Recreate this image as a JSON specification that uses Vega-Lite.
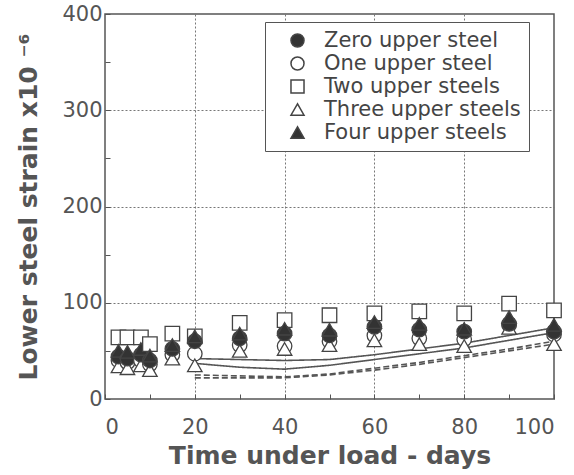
{
  "$schema": "https://vega.github.io/schema/vega-lite/v6.json",
  "autosize": {"type": "none"},
  "padding": {"left": 105, "top": 14, "right": 20, "bottom": 76},
  "width": 449,
  "height": 385,
  "background": "white",
  "config": {
    "view": {"stroke": "#555", "strokeWidth": 1.5},
    "font": "DejaVu Sans",
    "axis": {"labelFont": "DejaVu Sans", "titleFont": "DejaVu Sans", "labelColor": "#555", "titleColor": "#555", "domain": false, "gridColor": "#777", "gridDash": [2, 2], "gridWidth": 1, "tickColor": "#555", "tickSize": -5}
  },
  "datasets": {
    "pts": [
      {"day": 3, "strain": 64, "series": "Two upper steels"},
      {"day": 5, "strain": 64, "series": "Two upper steels"},
      {"day": 8, "strain": 64, "series": "Two upper steels"},
      {"day": 10, "strain": 57, "series": "Two upper steels"},
      {"day": 15, "strain": 68, "series": "Two upper steels"},
      {"day": 20, "strain": 65, "series": "Two upper steels"},
      {"day": 30, "strain": 79, "series": "Two upper steels"},
      {"day": 40, "strain": 82, "series": "Two upper steels"},
      {"day": 50, "strain": 87, "series": "Two upper steels"},
      {"day": 60, "strain": 89, "series": "Two upper steels"},
      {"day": 70, "strain": 91, "series": "Two upper steels"},
      {"day": 80, "strain": 89, "series": "Two upper steels"},
      {"day": 90, "strain": 99, "series": "Two upper steels"},
      {"day": 100, "strain": 92, "series": "Two upper steels"},
      {"day": 3, "strain": 40, "series": "One upper steel"},
      {"day": 5, "strain": 38, "series": "One upper steel"},
      {"day": 8, "strain": 40, "series": "One upper steel"},
      {"day": 10, "strain": 36, "series": "One upper steel"},
      {"day": 15, "strain": 46, "series": "One upper steel"},
      {"day": 20, "strain": 47, "series": "One upper steel"},
      {"day": 30, "strain": 56, "series": "One upper steel"},
      {"day": 40, "strain": 55, "series": "One upper steel"},
      {"day": 50, "strain": 60, "series": "One upper steel"},
      {"day": 60, "strain": 66, "series": "One upper steel"},
      {"day": 70, "strain": 63, "series": "One upper steel"},
      {"day": 80, "strain": 62, "series": "One upper steel"},
      {"day": 90, "strain": 77, "series": "One upper steel"},
      {"day": 100, "strain": 67, "series": "One upper steel"},
      {"day": 3, "strain": 34, "series": "Three upper steels"},
      {"day": 5, "strain": 32, "series": "Three upper steels"},
      {"day": 8, "strain": 35, "series": "Three upper steels"},
      {"day": 10, "strain": 30, "series": "Three upper steels"},
      {"day": 15, "strain": 42, "series": "Three upper steels"},
      {"day": 20, "strain": 35, "series": "Three upper steels"},
      {"day": 30, "strain": 50, "series": "Three upper steels"},
      {"day": 40, "strain": 52, "series": "Three upper steels"},
      {"day": 50, "strain": 56, "series": "Three upper steels"},
      {"day": 60, "strain": 61, "series": "Three upper steels"},
      {"day": 70, "strain": 57, "series": "Three upper steels"},
      {"day": 80, "strain": 55, "series": "Three upper steels"},
      {"day": 90, "strain": 74, "series": "Three upper steels"},
      {"day": 100, "strain": 57, "series": "Three upper steels"},
      {"day": 3, "strain": 44, "series": "Zero upper steel"},
      {"day": 5, "strain": 42, "series": "Zero upper steel"},
      {"day": 8, "strain": 46, "series": "Zero upper steel"},
      {"day": 10, "strain": 40, "series": "Zero upper steel"},
      {"day": 15, "strain": 52, "series": "Zero upper steel"},
      {"day": 20, "strain": 60, "series": "Zero upper steel"},
      {"day": 30, "strain": 63, "series": "Zero upper steel"},
      {"day": 40, "strain": 68, "series": "Zero upper steel"},
      {"day": 50, "strain": 66, "series": "Zero upper steel"},
      {"day": 60, "strain": 75, "series": "Zero upper steel"},
      {"day": 70, "strain": 72, "series": "Zero upper steel"},
      {"day": 80, "strain": 70, "series": "Zero upper steel"},
      {"day": 90, "strain": 78, "series": "Zero upper steel"},
      {"day": 100, "strain": 70, "series": "Zero upper steel"},
      {"day": 3, "strain": 50, "series": "Four upper steels"},
      {"day": 5, "strain": 49, "series": "Four upper steels"},
      {"day": 8, "strain": 52, "series": "Four upper steels"},
      {"day": 10, "strain": 45, "series": "Four upper steels"},
      {"day": 15, "strain": 56, "series": "Four upper steels"},
      {"day": 20, "strain": 65, "series": "Four upper steels"},
      {"day": 30, "strain": 68, "series": "Four upper steels"},
      {"day": 40, "strain": 73, "series": "Four upper steels"},
      {"day": 50, "strain": 72, "series": "Four upper steels"},
      {"day": 60, "strain": 80, "series": "Four upper steels"},
      {"day": 70, "strain": 78, "series": "Four upper steels"},
      {"day": 80, "strain": 73, "series": "Four upper steels"},
      {"day": 90, "strain": 85, "series": "Four upper steels"},
      {"day": 100, "strain": 77, "series": "Four upper steels"}
    ],
    "curves": [
      {"day": 20, "strain": 42, "curve": "a", "dash": "solid"},
      {"day": 30, "strain": 41, "curve": "a", "dash": "solid"},
      {"day": 40, "strain": 40, "curve": "a", "dash": "solid"},
      {"day": 50, "strain": 41, "curve": "a", "dash": "solid"},
      {"day": 60, "strain": 46, "curve": "a", "dash": "solid"},
      {"day": 70, "strain": 52, "curve": "a", "dash": "solid"},
      {"day": 80, "strain": 58, "curve": "a", "dash": "solid"},
      {"day": 90, "strain": 66, "curve": "a", "dash": "solid"},
      {"day": 100, "strain": 74, "curve": "a", "dash": "solid"},
      {"day": 20, "strain": 37, "curve": "b", "dash": "solid"},
      {"day": 30, "strain": 33, "curve": "b", "dash": "solid"},
      {"day": 40, "strain": 31, "curve": "b", "dash": "solid"},
      {"day": 50, "strain": 35, "curve": "b", "dash": "solid"},
      {"day": 60, "strain": 41, "curve": "b", "dash": "solid"},
      {"day": 70, "strain": 47, "curve": "b", "dash": "solid"},
      {"day": 80, "strain": 53, "curve": "b", "dash": "solid"},
      {"day": 90, "strain": 61, "curve": "b", "dash": "solid"},
      {"day": 100, "strain": 69, "curve": "b", "dash": "solid"},
      {"day": 20, "strain": 25, "curve": "c", "dash": "dashed"},
      {"day": 30, "strain": 24, "curve": "c", "dash": "dashed"},
      {"day": 40, "strain": 23, "curve": "c", "dash": "dashed"},
      {"day": 50, "strain": 26, "curve": "c", "dash": "dashed"},
      {"day": 60, "strain": 32, "curve": "c", "dash": "dashed"},
      {"day": 70, "strain": 38, "curve": "c", "dash": "dashed"},
      {"day": 80, "strain": 45, "curve": "c", "dash": "dashed"},
      {"day": 90, "strain": 52, "curve": "c", "dash": "dashed"},
      {"day": 100, "strain": 60, "curve": "c", "dash": "dashed"},
      {"day": 20, "strain": 22, "curve": "d", "dash": "dashed"},
      {"day": 30, "strain": 22, "curve": "d", "dash": "dashed"},
      {"day": 40, "strain": 22, "curve": "d", "dash": "dashed"},
      {"day": 50, "strain": 25, "curve": "d", "dash": "dashed"},
      {"day": 60, "strain": 30, "curve": "d", "dash": "dashed"},
      {"day": 70, "strain": 36, "curve": "d", "dash": "dashed"},
      {"day": 80, "strain": 43, "curve": "d", "dash": "dashed"},
      {"day": 90, "strain": 50, "curve": "d", "dash": "dashed"},
      {"day": 100, "strain": 57, "curve": "d", "dash": "dashed"}
    ]
  },
  "encoding": {
    "x": {
      "field": "day", "type": "quantitative",
      "scale": {"domain": [0, 100], "nice": false},
      "axis": {
        "title": "Time under load - days",
        "titleFontSize": 25, "titleFontWeight": "bold", "titlePadding": 6,
        "values": [0, 10, 20, 30, 40, 50, 60, 70, 80, 90, 100],
        "labelExpr": "datum.value % 20 === 0 ? datum.label : ''",
        "labelFontSize": 21, "labelPadding": 22,
        "gridOpacity": {"condition": {"test": "datum.value % 20 === 0 && datum.value > 0 && datum.value < 100", "value": 1}, "value": 0}
      }
    },
    "y": {
      "field": "strain", "type": "quantitative",
      "scale": {"domain": [0, 400], "nice": false},
      "axis": {
        "title": "Lower steel strain x10 ⁻⁶",
        "titleFontSize": 25, "titleFontWeight": "bold", "titlePadding": 20,
        "values": [0, 50, 100, 150, 200, 250, 300, 350, 400],
        "labelExpr": "datum.value % 100 === 0 ? datum.label : ''",
        "labelFontSize": 21, "labelPadding": 8,
        "gridOpacity": {"condition": {"test": "datum.value % 100 === 0 && datum.value > 0 && datum.value < 400", "value": 1}, "value": 0}
      }
    }
  },
  "layer": [
    {
      "data": {"name": "curves"},
      "mark": {"type": "line", "color": "#555", "strokeWidth": 1.6},
      "encoding": {
        "detail": {"field": "curve"},
        "strokeDash": {"field": "dash", "type": "nominal", "scale": {"domain": ["solid", "dashed"], "range": [[1, 0], [6, 3]]}, "legend": null}
      }
    },
    {
      "data": {"name": "pts"},
      "mark": {"type": "point", "filled": true, "size": 210, "stroke": "#444", "strokeWidth": 1.3, "opacity": 1},
      "encoding": {
        "shape": {"field": "series", "type": "nominal",
          "scale": {"domain": ["Zero upper steel", "One upper steel", "Two upper steels", "Three upper steels", "Four upper steels"], "range": ["circle", "circle", "square", "triangle-up", "triangle-up"]},
          "legend": {"title": null, "orient": "none", "legendX": 160, "legendY": 8, "labelFontSize": 21, "labelColor": "#444", "labelFont": "DejaVu Sans", "labelLimit": 400, "symbolSize": 170, "strokeColor": "#555", "fillColor": "white", "padding": 8, "rowPadding": 1, "symbolOffset": 14, "labelOffset": 16,
            "encode": {"symbols": {"update": {"stroke": {"value": "#444"}, "strokeWidth": {"value": 1.3}}}, "legend": {"update": {"width": {"value": 270}}}}}
        },
        "fill": {"field": "series", "type": "nominal",
          "scale": {"domain": ["Zero upper steel", "One upper steel", "Two upper steels", "Three upper steels", "Four upper steels"], "range": ["#333", "white", "white", "white", "#333"]}
        },
        "order": {"field": "day"}
      }
    }
  ]
}
